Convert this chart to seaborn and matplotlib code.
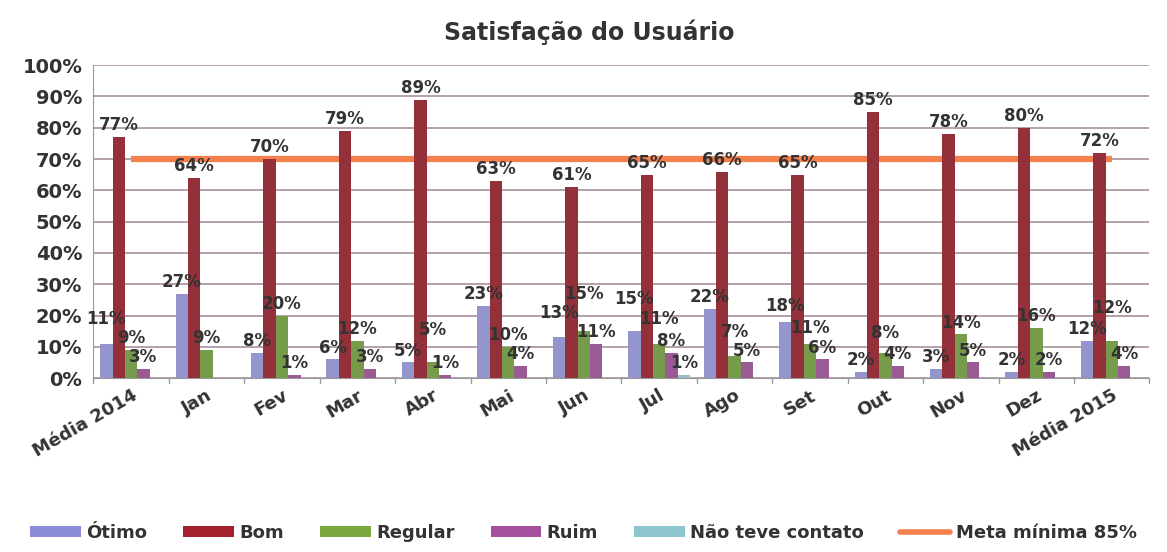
import matplotlib
matplotlib.use("Agg")
import matplotlib.pyplot as plt
import seaborn as sns
import pandas as pd
from matplotlib.patches import Patch
from matplotlib.lines import Line2D

categories = ["Média 2014", "Jan", "Fev", "Mar", "Abr", "Mai", "Jun", "Jul",
              "Ago", "Set", "Out", "Nov", "Dez", "Média 2015"]
otimo = [11, 27, 8, 6, 5, 23, 13, 15, 22, 18, 2, 3, 2, 12]
bom = [77, 64, 70, 79, 89, 63, 61, 65, 66, 65, 85, 78, 80, 72]
regular = [9, 9, 20, 12, 5, 10, 15, 11, 7, 11, 8, 14, 16, 12]
ruim = [3, 0, 1, 3, 1, 4, 11, 8, 5, 6, 4, 5, 2, 4]
nao_contato = [0, 0, 0, 0, 0, 0, 0, 1, 0, 0, 0, 0, 0, 0]
meta = [70] * len(categories)

series_names = ["Ótimo", "Bom", "Regular", "Ruim", "Não teve contato"]
series_values = [otimo, bom, regular, ruim, nao_contato]
colors = ["#8c8cd6", "#a3202c", "#78a83c", "#a4509c", "#8ec6d0"]
line_color = "#f4804e"

rows = []
for name, vals in zip(series_names, series_values):
    for c, v in zip(categories, vals):
        rows.append({"Mês": c, "Série": name, "Valor": v})
df = pd.DataFrame(rows)

sns.set_style("white")
plt.rcParams["font.family"] = ["DejaVu Sans"]
plt.rcParams["font.weight"] = "bold"

fig = plt.figure(figsize=(11.67, 5.52), dpi=100)
ax = fig.add_axes([0.080, 0.315, 0.905, 0.567])

sns.barplot(data=df, x="Mês", y="Valor", hue="Série", order=categories,
            hue_order=series_names, palette=colors, width=0.82, ax=ax,
            edgecolor="none", legend=False, zorder=3)

ax.plot(range(len(categories)), meta, color=line_color, lw=4.5, zorder=2.5,
        solid_capstyle="butt")

all_labels = []
for cont, vals in zip(ax.containers, series_values):
    labels = [f"{v}%" if v > 0 else "" for v in vals]
    texts = ax.bar_label(cont, labels=labels, padding=2, fontsize=12,
                         fontweight="bold", color="#333333", zorder=5)
    all_labels.extend([t for t in texts if t.get_text()])

ax.set_ylim(0, 100)
ax.set_xlim(-0.5, len(categories) - 0.5)
ax.set_yticks(range(0, 101, 10))
ax.set_yticklabels([f"{t}%" for t in range(0, 101, 10)], fontsize=14,
                   fontweight="bold", color="#333333")
ax.yaxis.grid(True, color="#a8909a", lw=1.2, zorder=0)
ax.set_axisbelow(True)
ax.set_xlabel("")
ax.set_ylabel("")
ax.set_xticks(range(len(categories)))
ax.set_xticklabels(categories, rotation=30, ha="right", rotation_mode="anchor",
                   fontsize=13, fontweight="bold", color="#333333")
ax.tick_params(axis="x", length=0, pad=6)
ax.tick_params(axis="y", length=0, pad=8)
for s in ["top", "right"]:
    ax.spines[s].set_visible(False)
ax.spines["left"].set_color("#999999")
ax.spines["bottom"].set_color("#999999")
for i in range(len(categories) + 1):
    ax.plot([i - 0.5, i - 0.5], [0, -1.5], color="#999999", lw=1,
            clip_on=False)

fig.suptitle("Satisfação do Usuário", y=0.965, fontsize=17,
             fontweight="bold", color="#333333", x=0.505)

handles = [Patch(facecolor=c, edgecolor="none") for c in colors]
handles.append(Line2D([0], [0], color=line_color, lw=4))
fig.legend(handles, series_names + ["Meta mínima 85%"], loc="center",
           bbox_to_anchor=(0.5, 0.035), ncol=6, frameon=False,
           prop={"size": 13, "weight": "bold"}, handlelength=2.8,
           handleheight=0.55, handletextpad=0.3, columnspacing=2.0,
           labelcolor="#333333")

# nudge overlapping value labels upward
fig.canvas.draw()
renderer = fig.canvas.get_renderer()
placed = []
order = sorted(all_labels, key=lambda t: t.get_window_extent(renderer).y0)
for t in order:
    for _ in range(40):
        bb = t.get_window_extent(renderer).expanded(1.02, 1.0)
        if any(bb.overlaps(p) for p in placed):
            x, y = t.xyann
            t.xyann = (x, y + 3)
        else:
            break
    placed.append(t.get_window_extent(renderer))

fig.savefig("out.png", dpi=100)
